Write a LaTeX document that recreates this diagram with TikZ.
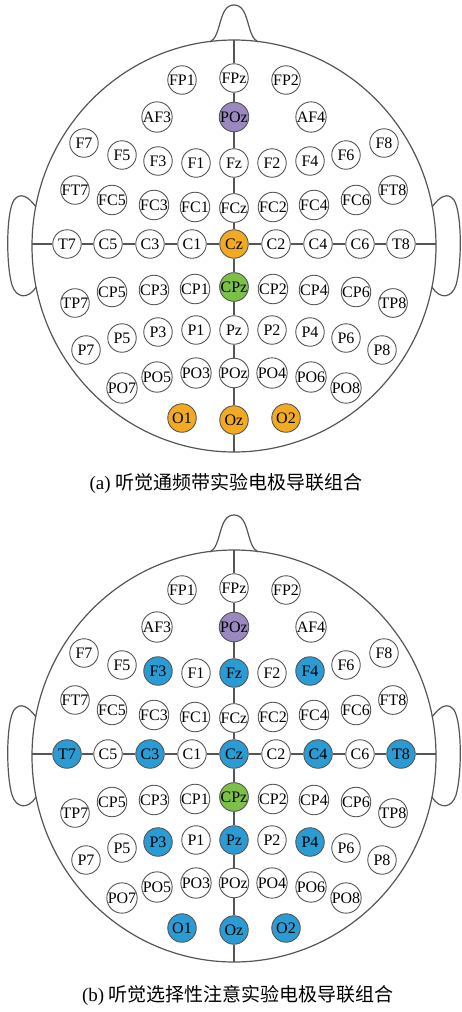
\documentclass[tikz,border=0pt]{standalone}
\usepackage{fontspec}
\setmainfont{Liberation Serif}
\newfontfamily\cjk{Noto Sans CJK SC}
\definecolor{eorange}{HTML}{F2AA22}
\definecolor{epurple}{HTML}{9A88BF}
\definecolor{egreen}{HTML}{7CC04A}
\definecolor{eblue}{HTML}{2A9BD3}
\definecolor{eline}{HTML}{555555}
\tikzset{
  el/.style={circle, draw=eline, line width=0.9pt, fill=white, minimum size=28.5pt, inner sep=0pt, font=\fontsize{16}{16}\selectfont},
  outline/.style={draw=eline, line width=1.2pt},
  caption/.style={inner sep=0pt, font=\fontsize{19}{19}\selectfont},
  a-AFz/.style={fill=epurple}, b-AFz/.style={fill=epurple},
  a-CPz/.style={fill=egreen}, b-CPz/.style={fill=egreen},
  a-Cz/.style={fill=eorange}, a-O1/.style={fill=eorange}, a-Oz/.style={fill=eorange}, a-O2/.style={fill=eorange},
  b-F3/.style={fill=eblue}, b-Fz/.style={fill=eblue}, b-F4/.style={fill=eblue},
  b-T7/.style={fill=eblue}, b-C3/.style={fill=eblue}, b-Cz/.style={fill=eblue}, b-C4/.style={fill=eblue}, b-T8/.style={fill=eblue},
  b-P3/.style={fill=eblue}, b-Pz/.style={fill=eblue}, b-P4/.style={fill=eblue},
  b-O1/.style={fill=eblue}, b-Oz/.style={fill=eblue}, b-O2/.style={fill=eblue},
}
\newcommand\eegelectrodes{%
FP1/FP1/182/80, FPz/FPz/234/78, FP2/FP2/286/80,
AF3/AF3/157/117, AFz/POz/234/117, AF4/AF4/311/117,
F7/F7/84/143, F5/F5/122/155, F3/F3/158/161, F1/F1/196/163, Fz/Fz/234/163, F2/F2/272/163, F4/F4/310/161, F6/F6/346/155, F8/F8/384/143,
FT7/FT7/75/190, FC5/FC5/112/200, FC3/FC3/154/205, FC1/FC1/195/207, FCz/FCz/234/208, FC2/FC2/273/207, FC4/FC4/314/205, FC6/FC6/356/200, FT8/FT8/393/190,
T7/T7/67/244, C5/C5/108/244, C3/C3/150/244, C1/C1/192/244, Cz/Cz/234/244, C2/C2/276/244, C4/C4/318/244, C6/C6/360/244, T8/T8/401/244,
TP7/TP7/75/303, CP5/CP5/112/292, CP3/CP3/154/290, CP1/CP1/195/289, CPz/CPz/234/287, CP2/CP2/273/289, CP4/CP4/314/290, CP6/CP6/356/292, TP8/TP8/393/303,
P7/P7/86/350, P5/P5/122/338, P3/P3/158/332, P1/P1/196/330, Pz/Pz/234/330, P2/P2/272/330, P4/P4/310/332, P6/P6/346/338, P8/P8/382/350,
PO7/PO7/122/388, PO5/PO5/157/377, PO3/PO3/196/373, POz/POz/234/373, PO4/PO4/272/373, PO6/PO6/311/377, PO8/PO8/346/388,
O1/O1/182/418, Oz/Oz/234/420, O2/O2/286/418}
\newcommand\drawhead[2]{%
\begin{scope}[yshift=#2]
  % nose
  \draw[outline] (210,42) .. controls (222,36) and (218,5) .. (234,5) .. controls (250,5) and (246,36) .. (258,42);
  % ears
  \draw[outline] (36,207) .. controls (28,196) and (20,192) .. (14,200) .. controls (6,212) and (6,265) .. (12,285) .. controls (16,298) and (28,300) .. (36,287);
  \draw[outline] (432,207) .. controls (440,196) and (448,192) .. (454,200) .. controls (462,212) and (462,265) .. (456,285) .. controls (452,298) and (440,300) .. (432,287);
  % head
  \draw[outline] (234,246) ellipse [x radius=202pt, y radius=206pt];
  \foreach \id/\lab/\x/\y in \eegelectrodes {
    \node[el, #1-\id/.try] (#1\id) at (\x,\y) {\lab};
  }
  \coordinate (#1top) at (234,40);
  \coordinate (#1bot) at (234,452);
  \coordinate (#1left) at (32,244);
  \coordinate (#1right) at (436,244);
  \draw[outline] (#1top) -- (#1FPz) (#1FPz) -- (#1AFz) (#1AFz) -- (#1Fz) (#1Fz) -- (#1FCz) (#1FCz) -- (#1Cz)
    (#1Cz) -- (#1CPz) (#1CPz) -- (#1Pz) (#1Pz) -- (#1POz) (#1POz) -- (#1Oz) (#1Oz) -- (#1bot);
  \draw[outline] (#1left) -- (#1T7) (#1T7) -- (#1C5) (#1C5) -- (#1C3) (#1C3) -- (#1C1) (#1C1) -- (#1Cz)
    (#1Cz) -- (#1C2) (#1C2) -- (#1C4) (#1C4) -- (#1C6) (#1C6) -- (#1T8) (#1T8) -- (#1right);
\end{scope}}
\begin{document}
\begin{tikzpicture}[x=1pt,y=-1pt]
\useasboundingbox (0,0) rectangle (462,1012);
\drawhead{a}{0pt}
\drawhead{b}{-510pt}
\node[caption] (capa) at (226,483) {(a) {\cjk 听觉通频带实验电极导联组合}};
\node[caption] (capb) at (238,995) {(b) {\cjk 听觉选择性注意实验电极导联组合}};
\end{tikzpicture}
\end{document}
